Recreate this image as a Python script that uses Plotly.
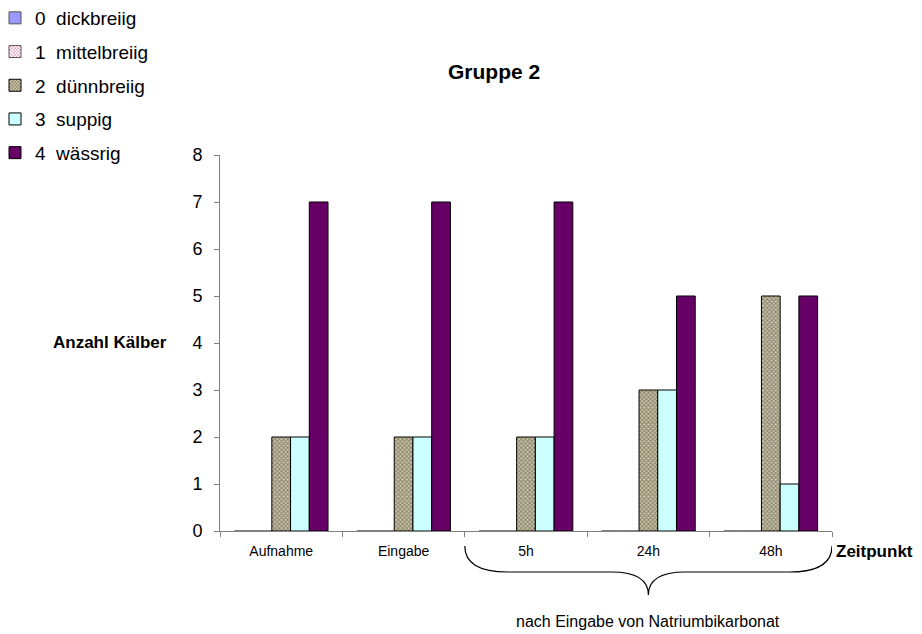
import plotly.graph_objects as go

categories = ["Aufnahme", "Eingabe", "5h", "24h", "48h"]
series_labels = ["0\u00a0 dickbreiig", "1\u00a0 mittelbreiig", "2\u00a0 dünnbreiig",
                 "3\u00a0 suppig", "4\u00a0 wässrig"]
dickbreiig = [0, 0, 0, 0, 0]
mittelbreiig = [0, 0, 0, 0, 0]
duennbreiig = [2, 2, 2, 3, 5]
suppig = [2, 2, 2, 3, 1]
waessrig = [7, 7, 7, 5, 5]
y_ticks = [0, 1, 2, 3, 4, 5, 6, 7, 8]

values = [dickbreiig, mittelbreiig, duennbreiig, suppig, waessrig]
colors = ["#9999ff", "#ffffff", "#c8c098", "#ccffff", "#660066"]
line_colors = ["#555555", "#555555", "#000000", "#000000", "#000000"]
patterns = [
    None,
    dict(shape="x", size=3, solidity=0.5, fgcolor="#cc3377", bgcolor="#ffffff"),
    dict(shape="x", size=3, solidity=0.5, fgcolor="#333355", bgcolor="#d0c89c"),
    None,
    None,
]

FONT = "Liberation Sans, Arial, sans-serif"

# helpers: screen pixel -> plot-relative fractions (plot area 220..832 x 155..531)
def px(sx):
    return (sx - 220) / 612.0


def py(sy):
    return (531 - sy) / 376.0


fig = go.Figure()
for i, (name, vals) in enumerate(zip(series_labels, values)):
    marker = dict(color=colors[i], line=dict(color=line_colors[i], width=1))
    if patterns[i] is not None:
        marker["pattern"] = patterns[i]
    fig.add_trace(go.Bar(
        x=categories, y=vals, name=name, marker=marker,
        legendgroup="g%d" % i, showlegend=True,
    ))

fig.update_layout(
    width=922, height=634, autosize=False,
    margin=dict(l=212, r=98, t=147, b=111, autoexpand=False),
    paper_bgcolor="white", plot_bgcolor="white",
    barmode="group", bargap=0.235, bargroupgap=0,
    font=dict(family=FONT, color="#000000"),
    showlegend=True,
    legend=dict(
        xref="paper", yref="paper", x=px(-5), y=py(-1),
        xanchor="left", yanchor="top",
        font=dict(size=19, family=FONT),
        tracegroupgap=6, traceorder="grouped",
        itemwidth=30, bgcolor="rgba(0,0,0,0)",
    ),
    xaxis=dict(
        type="category", showline=True, linecolor="#808080", linewidth=1,
        ticks="outside", ticklen=5, tickcolor="#808080", tickson="boundaries",
        showgrid=False, tickfont=dict(size=14, family=FONT),
        ticklabelstandoff=7,
        range=[-0.5, 4.5],
    ),
    yaxis=dict(
        range=[0, 8], tickvals=y_ticks, showline=True, linecolor="#808080",
        linewidth=1, ticks="outside", ticklen=5, tickcolor="#808080",
        showgrid=False, zeroline=False, tickfont=dict(size=18, family=FONT),
        ticklabelstandoff=8,
    ),
    annotations=[
        dict(text="<b>Gruppe 2</b>", xref="paper", yref="paper",
             x=px(494), y=py(71), showarrow=False,
             font=dict(size=21, family=FONT), xanchor="center", yanchor="middle"),
        dict(text="<b>Anzahl Kälber</b>", xref="paper", yref="paper",
             x=px(110), y=py(342), showarrow=False,
             font=dict(size=17, family=FONT), xanchor="center", yanchor="middle"),
        dict(text="<b>Zeitpunkt</b>", xref="paper", yref="paper",
             x=px(874), y=py(551), showarrow=False,
             font=dict(size=17, family=FONT), xanchor="center", yanchor="middle"),
        dict(text="nach Eingabe von Natriumbikarbonat", xref="x", yref="paper",
             x=3.0, y=py(621), showarrow=False,
             font=dict(size=16, family=FONT), xanchor="center", yanchor="middle"),
    ],
    shapes=[
        dict(type="path", xref="x", yref="paper",
             path=("M 1.5,%.4f Q 1.5,%.4f 1.85,%.4f L 2.7,%.4f "
                   "Q 3.0,%.4f 3.0,%.4f Q 3.0,%.4f 3.3,%.4f L 4.15,%.4f "
                   "Q 4.5,%.4f 4.5,%.4f") % (
                 py(546), py(572), py(572), py(572),
                 py(572), py(595), py(572), py(572), py(572),
                 py(572), py(546)),
             line=dict(color="#000000", width=1.2)),
    ],
)

fig.write_html("out.html")
